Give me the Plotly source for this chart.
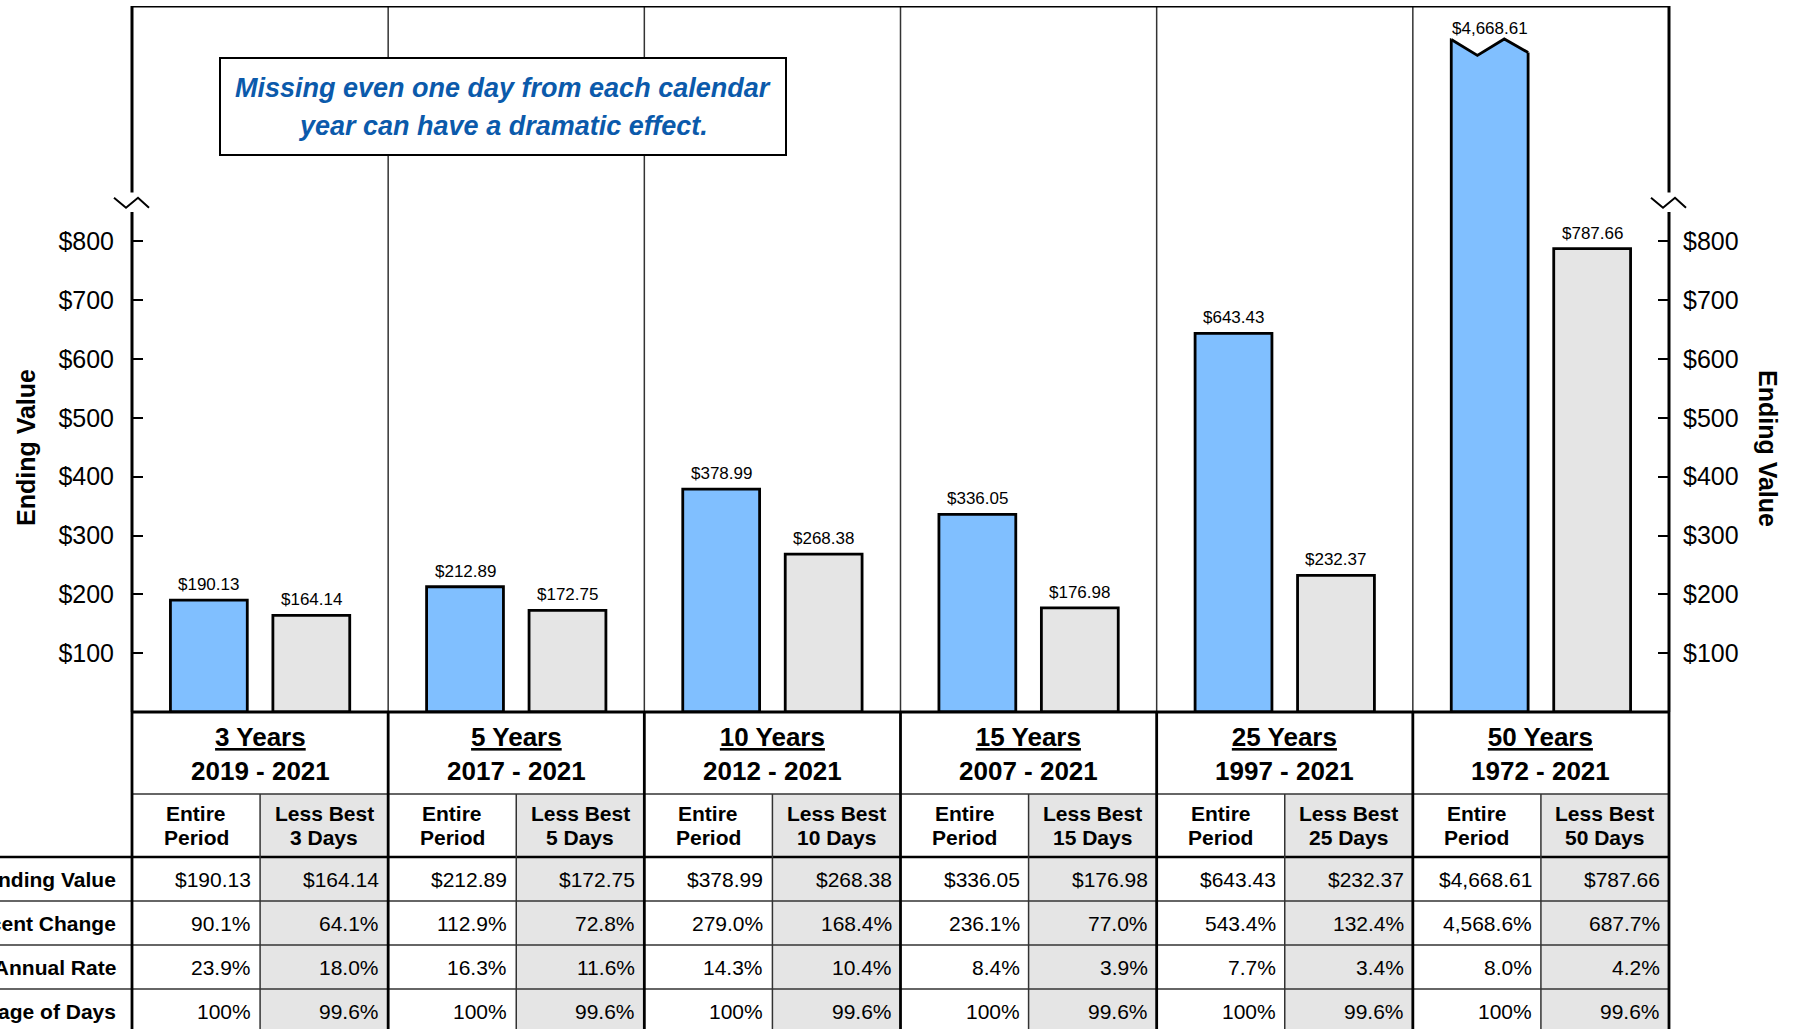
import plotly.graph_objects as go

# ---------------- data ----------------
periods = ["3 Years", "5 Years", "10 Years", "15 Years", "25 Years", "50 Years"]
year_spans = ["2019 - 2021", "2017 - 2021", "2012 - 2021", "2007 - 2021", "1997 - 2021", "1972 - 2021"]
best_days_missed = [3, 5, 10, 15, 25, 50]
ending_entire = [190.13, 212.89, 378.99, 336.05, 643.43, 4668.61]
ending_less = [164.14, 172.75, 268.38, 176.98, 232.37, 787.66]
pct_change_entire = [90.1, 112.9, 279.0, 236.1, 543.4, 4568.6]
pct_change_less = [64.1, 72.8, 168.4, 77.0, 132.4, 687.7]
annual_rate_entire = [23.9, 16.3, 14.3, 8.4, 7.7, 8.0]
annual_rate_less = [18.0, 11.6, 10.4, 3.9, 3.4, 4.2]
pct_days_entire = [100, 100, 100, 100, 100, 100]
pct_days_less = [99.6, 99.6, 99.6, 99.6, 99.6, 99.6]
y_tick_values = [100, 200, 300, 400, 500, 600, 700, 800]
row_labels = ["Ending Value", "Percent Change", "Compound Annual Rate", "Percentage of Days"]
headline = ["Missing even one day from each calendar", "year can have a dramatic effect."]

# ---------------- style / layout ----------------
W, H = 1800, 1029
ML, MR, MT = 132, 131, 6
PLOT_BOTTOM = 712
Y_MAX = 1200
BAR_CAP = 1143
AXIS_GAP = (850, 883)
BLUE = "#80BFFF"
GREY = "#E5E5E5"
DARK = "#333333"
FONT = "Liberation Sans, Arial, sans-serif"
PW = W - ML - MR
PH = H - MT
NG = len(periods)


def xp(px):
    return (px - ML) / PW


def yp(py):
    return (H - py) / PH


def fmt_money(v):
    return f"${v:,.2f}"


def fmt_days(v):
    return f"{v:,.1f}%" if v != int(v) else f"{v:,.0f}%"


def fmt_pct1(v):
    return f"{v:,.1f}%"


fig = go.Figure()

x_idx = list(range(NG))
BAR_W = 0.3
OFF_A, OFF_B = -0.35, 0.05

fig.add_bar(x=x_idx, y=[min(v, BAR_CAP) for v in ending_entire], width=BAR_W, offset=OFF_A,
            marker=dict(color=BLUE, line=dict(color="black", width=2.8)), hoverinfo="skip")
fig.add_bar(x=x_idx, y=[min(v, BAR_CAP) for v in ending_less], width=BAR_W, offset=OFF_B,
            marker=dict(color=GREY, line=dict(color="black", width=2.8)), hoverinfo="skip")
fig.add_scatter(x=[0], y=[0], yaxis="y2", mode="markers", marker=dict(opacity=0),
                showlegend=False, hoverinfo="skip")

shapes = []
ann = []

# group dividers in plot area
for i in range(1, NG):
    shapes.append(dict(type="line", xref="paper", yref="y", x0=i / NG, x1=i / NG, y0=0, y1=Y_MAX,
                       line=dict(color=DARK, width=1.5), layer="below"))

# headline box
shapes.append(dict(type="rect", xref="paper", yref="paper", x0=xp(220), x1=xp(786), y0=yp(58), y1=yp(155),
                   fillcolor="white", line=dict(color="black", width=2)))
for line_txt, cy in zip(headline, [88, 126]):
    ann.append(dict(xref="paper", yref="paper", x=xp(503), y=yp(cy), xanchor="center", yanchor="middle",
                    text=f"<b><i>{line_txt}</i></b>", showarrow=False,
                    font=dict(family=FONT, size=27, color="#0B5AAB")))

# top border and axes with break
shapes.append(dict(type="line", xref="paper", yref="y", x0=0, x1=1, y0=Y_MAX, y1=Y_MAX,
                   line=dict(color="black", width=3)))
for ax_x in (0, 1):
    shapes.append(dict(type="line", xref="paper", yref="y", x0=ax_x, x1=ax_x, y0=0, y1=AXIS_GAP[0],
                       line=dict(color="black", width=3)))
    shapes.append(dict(type="line", xref="paper", yref="y", x0=ax_x, x1=ax_x, y0=AXIS_GAP[1], y1=Y_MAX,
                       line=dict(color="black", width=3)))
    lo = AXIS_GAP[0] + 7
    hi = AXIS_GAP[1] - 9
    pts = [(-18, hi), (-6, lo), (6, hi), (17, lo)]
    path = "M " + " L ".join(f"{ax_x + dx / PW},{yy}" for dx, yy in pts)
    shapes.append(dict(type="path", xref="paper", yref="y", path=path, line=dict(color="black", width=2)))

# zig-zag top for bars exceeding the break
for i, v in enumerate(ending_entire):
    if v > BAR_CAP:
        xl = i + OFF_A
        xr = xl + BAR_W
        d1 = BAR_CAP - 27
        p1 = BAR_CAP + 1
        r1 = BAR_CAP - 22
        xd = xl + 0.34 * BAR_W
        xpk = xl + 0.69 * BAR_W
        cover = (f"M {xl},{BAR_CAP} L {xd},{d1} L {xpk},{p1} L {xr},{r1} L {xr + 0.02},{r1} "
                 f"L {xr + 0.02},{BAR_CAP + 15} L {xl},{BAR_CAP + 15} Z")
        shapes.append(dict(type="path", xref="x", yref="y", path=cover, fillcolor="white",
                           line=dict(width=0)))
        zz = f"M {xl},{BAR_CAP} L {xd},{d1} L {xpk},{p1} L {xr},{r1}"
        shapes.append(dict(type="path", xref="x", yref="y", path=zz, line=dict(color="black", width=2.8)))

# bar value labels
for vals, off in ((ending_entire, OFF_A), (ending_less, OFF_B)):
    for i, v in enumerate(vals):
        ann.append(dict(x=i + off + BAR_W / 2, y=min(v, BAR_CAP), xref="x", yref="y", text=fmt_money(v),
                        showarrow=False, xanchor="center", yanchor="bottom", yshift=4 if v <= BAR_CAP else 0,
                        font=dict(family=FONT, size=17, color="black")))

# ---------------- table ----------------
ROW_PX = [712, 794, 857, 901, 945, 989, 1045]
for i in range(NG):
    shapes.append(dict(type="rect", xref="paper", yref="paper", x0=(i + 0.5) / NG, x1=(i + 1) / NG,
                       y0=yp(ROW_PX[1]), y1=yp(ROW_PX[-1]), fillcolor=GREY, line=dict(width=0)))
shapes.append(dict(type="line", xref="paper", yref="paper", x0=0, x1=1, y0=yp(ROW_PX[1]), y1=yp(ROW_PX[1]),
                   line=dict(color=DARK, width=1.5)))
shapes.append(dict(type="line", xref="paper", yref="paper", x0=xp(0), x1=1, y0=yp(ROW_PX[2]), y1=yp(ROW_PX[2]),
                   line=dict(color="black", width=2.5)))
for py in ROW_PX[3:6]:
    shapes.append(dict(type="line", xref="paper", yref="paper", x0=xp(0), x1=1, y0=yp(py), y1=yp(py),
                       line=dict(color=DARK, width=1.5)))
for i in range(NG):
    shapes.append(dict(type="line", xref="paper", yref="paper", x0=(i + 0.5) / NG, x1=(i + 0.5) / NG,
                       y0=yp(ROW_PX[1]), y1=yp(ROW_PX[-1]), line=dict(color=DARK, width=1.5)))
for i in range(NG + 1):
    shapes.append(dict(type="line", xref="paper", yref="paper", x0=i / NG, x1=i / NG,
                       y0=yp(ROW_PX[0]), y1=yp(ROW_PX[-1]), line=dict(color="black", width=2.8)))
shapes.append(dict(type="line", xref="paper", yref="paper", x0=0, x1=1, y0=yp(ROW_PX[0]), y1=yp(ROW_PX[0]),
                   line=dict(color="black", width=3)))

for i in range(NG):
    ann.append(dict(xref="paper", yref="paper", x=(i + 0.5) / NG, y=yp((ROW_PX[0] + ROW_PX[1]) / 2 + 1),
                    xanchor="center", yanchor="middle",
                    text=f"<b><u>{periods[i]}</u><br>{year_spans[i]}</b>", showarrow=False,
                    font=dict(family=FONT, size=26, color="black")))
    cy = (ROW_PX[1] + ROW_PX[2]) / 2
    for cx, lines in (((i + 0.25) / NG, ["Entire", "Period"]),
                      ((i + 0.75) / NG, ["Less Best", f"{best_days_missed[i]} Days"])):
        for k, t in enumerate(lines):
            ann.append(dict(xref="paper", yref="paper", x=cx, y=yp(cy - 12 + 24 * k), text=f"<b>{t}</b>",
                            showarrow=False, xanchor="center", yanchor="middle",
                            font=dict(family=FONT, size=21, color="black")))

table_rows = [
    ([fmt_money(v) for v in ending_entire], [fmt_money(v) for v in ending_less]),
    ([fmt_pct1(v) for v in pct_change_entire], [fmt_pct1(v) for v in pct_change_less]),
    ([fmt_pct1(v) for v in annual_rate_entire], [fmt_pct1(v) for v in annual_rate_less]),
    ([fmt_days(v) for v in pct_days_entire], [fmt_days(v) for v in pct_days_less]),
]
ROW_CENTERS = [879, 923, 967, 1011]
for r, (label, (ent, les)) in enumerate(zip(row_labels, table_rows)):
    cy = ROW_CENTERS[r]
    ann.append(dict(xref="paper", yref="paper", x=xp(118), y=yp(cy), xanchor="right", yanchor="middle",
                    text=f"<b>{label}</b>", showarrow=False, font=dict(family=FONT, size=21, color="black")))
    for i in range(NG):
        for edge, t in (((i + 0.5) / NG, ent[i]), ((i + 1) / NG, les[i])):
            ann.append(dict(xref="paper", yref="paper", x=edge - 7 / PW, y=yp(cy), xanchor="right",
                            yanchor="middle", text=t, showarrow=False,
                            font=dict(family=FONT, size=21, color="black")))

# axis titles
ann.append(dict(xref="paper", yref="paper", x=xp(26), y=yp(448), text="<b>Ending Value</b>", textangle=-90,
                xanchor="center", yanchor="middle",
                showarrow=False, font=dict(family=FONT, size=25, color="black")))
ann.append(dict(xref="paper", yref="paper", x=xp(1768), y=yp(448), text="<b>Ending Value</b>", textangle=90,
                xanchor="center", yanchor="middle",
                showarrow=False, font=dict(family=FONT, size=25, color="black")))

ydom = [(H - PLOT_BOTTOM) / PH, 1]
yax_common = dict(range=[0, Y_MAX], domain=ydom, tickvals=y_tick_values,
                  ticktext=[f"${v}" for v in y_tick_values], ticks="inside", ticklen=11, tickwidth=1.5,
                  tickcolor="black", showgrid=False, zeroline=False, showline=False,
                  tickfont=dict(family=FONT, size=25, color="black"), fixedrange=True)

fig.update_layout(
    width=W, height=H, margin=dict(l=ML, r=MR, t=MT, b=0, pad=0),
    paper_bgcolor="white", plot_bgcolor="white", showlegend=False, barmode="overlay",
    xaxis=dict(range=[-0.5, NG - 0.5], visible=False, fixedrange=True),
    yaxis=dict(**yax_common, side="left", ticklabelstandoff=17),
    yaxis2=dict(**yax_common, side="right", overlaying="y", ticklabelstandoff=13),
    shapes=shapes, annotations=ann,
)

fig.write_html("out.html", config={"displayModeBar": False},
               post_script="document.body.style.margin='0';document.body.style.overflow='hidden';")
